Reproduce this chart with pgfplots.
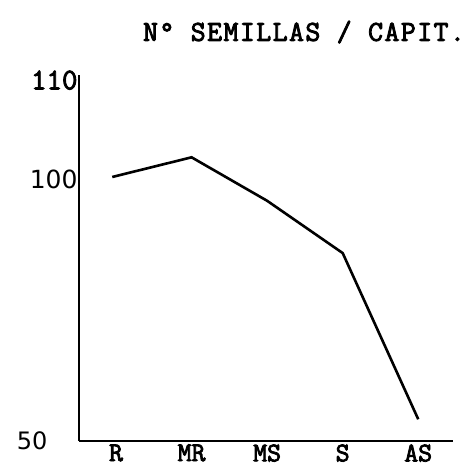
\documentclass[border=0pt]{standalone}
\usepackage{fontspec}
\usepackage{pgfplots}
\pgfplotsset{compat=1.18}
\newfontfamily\tw{Latin Modern Mono}[FakeBold=3]
\newfontfamily\twsp{Latin Modern Mono}[FakeBold=3, LetterSpace=5]
\newfontfamily\sans{DejaVu Sans}
\begin{document}
\begin{tikzpicture}
\useasboundingbox (0,0) rectangle (474bp,471bp);
\begin{axis}[
  at={(79bp,30bp)}, anchor=south west,
  scale only axis, width=374bp, height=366bp,
  xmin=-0.49, xmax=4.46, ymin=50, ymax=120.7,
  axis lines=left, axis line style={-, line width=2.2bp, black},
  xtick={0,1,2,3,4},
  xticklabels={R,MR,MS,S,AS},
  xticklabel style={font=\fontsize{27bp}{27bp}\selectfont\tw, yshift=0bp},
  ytick={50,100,119.7},
  yticklabels={\mbox{\fontsize{24bp}{24bp}\selectfont\sans 50\hspace{30bp}},
               \mbox{\raisebox{5bp}{\fontsize{25bp}{25bp}\selectfont\sans 100}},
               \mbox{\fontsize{30bp}{30bp}\selectfont\tw 110}},
  yticklabel style={xshift=2bp},
  major tick length=0pt,
  clip=false,
]
\addplot[black, line width=2.6bp, mark=none] coordinates {
  (-0.05,101) (1,104.8) (2,96.4) (3,86.3) (4,54.2)
};
\end{axis}
\node[font=\fontsize{29bp}{29bp}\selectfont\twsp] at (304bp,439bp) {N° SEMILLAS / CAPIT.};
\end{tikzpicture}
\end{document}
